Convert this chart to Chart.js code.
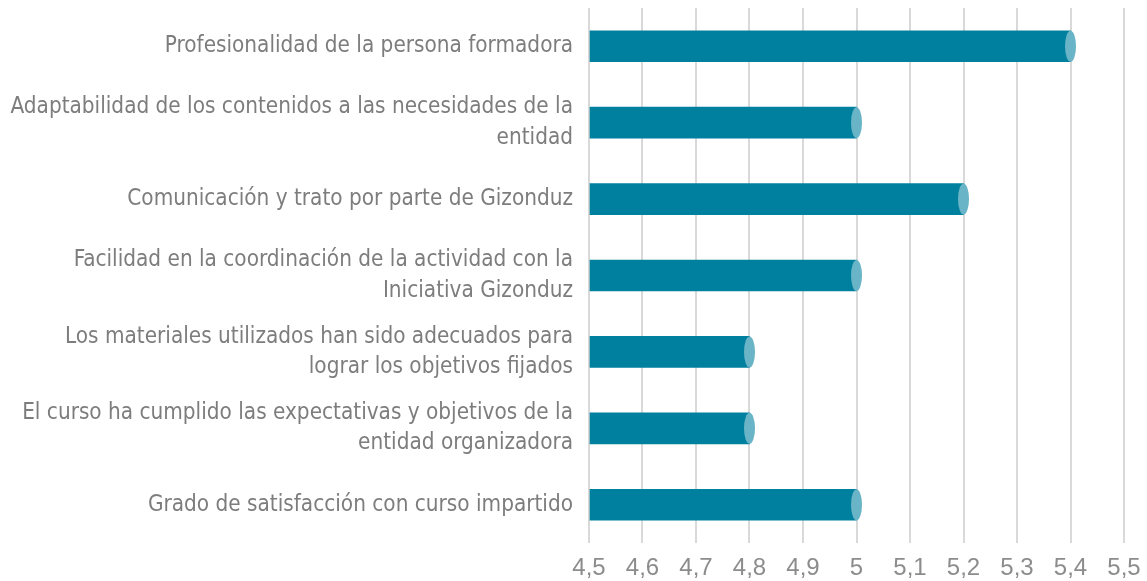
<!DOCTYPE html>
<html>
<head>
<meta charset="utf-8">
<script src="https://cdn.jsdelivr.net/npm/chart.js@4"></script>
<style>
html,body{margin:0;padding:0;background:#fff;}
#wrap{width:1147px;height:581px;position:relative;}
</style>
</head>
<body>
<div id="wrap"><canvas id="c" width="1147" height="581"></canvas></div>
<script>
const categories = [
  ["Profesionalidad de la persona formadora"],
  ["Adaptabilidad de los contenidos a las necesidades de la", "entidad"],
  ["Comunicación y trato por parte de Gizonduz"],
  ["Facilidad en la coordinación de la actividad con la", "Iniciativa Gizonduz"],
  ["Los materiales utilizados han sido adecuados para", "lograr los objetivos fijados"],
  ["El curso ha cumplido las expectativas y objetivos de la", "entidad organizadora"],
  ["Grado de satisfacción con curso impartido"]
];
const values = [5.4, 5, 5.2, 5, 4.8, 4.8, 5];
const axisMin = 4.5;
const axisMax = 5.5;
const axisStep = 0.1;

const capPlugin = {
  id: 'caps',
  afterDatasetsDraw(chart) {
    const ctx = chart.ctx;
    const meta = chart.getDatasetMeta(0);
    ctx.save();
    meta.data.forEach(el => {
      const h = el.height;
      ctx.beginPath();
      ctx.ellipse(el.x, el.y, 5.5, h / 2, 0, 0, Math.PI * 2);
      ctx.fillStyle = '#69b4c6';
      ctx.fill();
    });
    ctx.restore();
  }
};

new Chart(document.getElementById('c'), {
  type: 'bar',
  data: {
    labels: categories,
    datasets: [{
      data: values,
      backgroundColor: '#00809f',
      borderWidth: 0,
      barThickness: 31,
      base: axisMin
    }]
  },
  options: {
    indexAxis: 'y',
    responsive: false,
    animation: false,
    devicePixelRatio: 1,
    layout: { padding: { top: 8, right: 23, left: 0, bottom: 0 } },
    plugins: { legend: { display: false }, tooltip: { enabled: false } },
    scales: {
      x: {
        min: axisMin,
        max: axisMax,
        ticks: {
          stepSize: axisStep,
          color: '#8c8c8c',
          font: { family: 'Liberation Sans', size: 24 },
          padding: 11,
          callback: v => String(Number(Number(v).toFixed(1))).replace('.', ',')
        },
        grid: { color: '#d9d9d9', lineWidth: 2, drawTicks: false },
        border: { display: false },
        afterFit(s) { s.height = 38; s.paddingLeft = 0; s.paddingRight = 0; }
      },
      y: {
        ticks: {
          color: '#7d7d7d',
          font: { family: 'DejaVu Sans Condensed', size: 22.35, lineHeight: 1.36 },
          padding: 8
        },
        grid: { display: false },
        border: { display: false },
        afterFit(s) { s.width = 589; s.paddingTop = 0; s.paddingBottom = 0; }
      }
    }
  },
  plugins: [capPlugin]
});
</script>
</body>
</html>
